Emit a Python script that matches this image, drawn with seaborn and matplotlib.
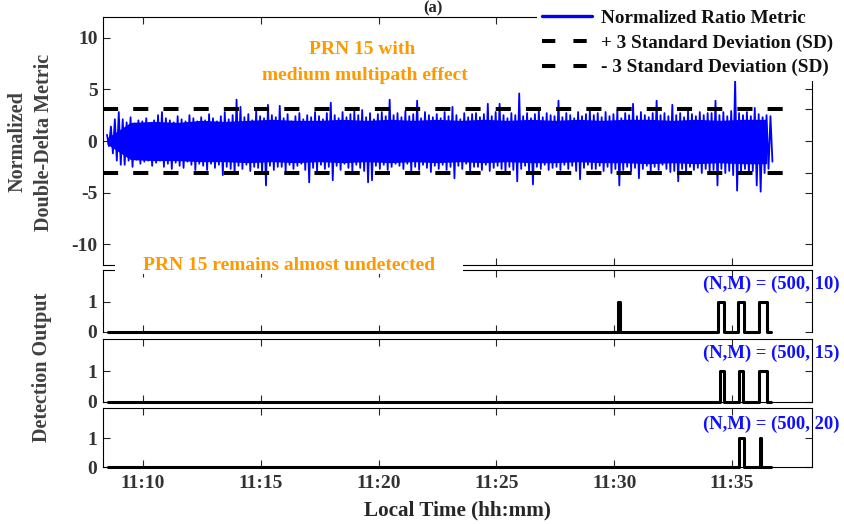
import numpy as np
import pandas as pd
import matplotlib
matplotlib.use("Agg")
import matplotlib.pyplot as plt
import seaborn as sns
from matplotlib.patches import Rectangle
from matplotlib.lines import Line2D

# ---------------- data (minutes after 11:00) ----------------
tick_pos = [10, 15, 20, 25, 30, 35]
tick_labels = ["11:10", "11:15", "11:20", "11:25", "11:30", "11:35"]

metric_t0 = 8.47          # first sample of the metric (min after 11:00)
metric_step = 1 / 6       # 10 s between read envelope samples
metric_hi = [
    0.6, 1.4, 2.1, 2.8,
    2.1, 1.8, 2.3, 1.7, 2.0, 1.9, 2.2, 1.6, 2.0, 2.5,
    2.8, 2.2, 2.0, 1.8, 2.4, 2.1, 1.9, 2.5, 2.2, 1.9,
    2.3, 2.0, 2.6, 2.2, 1.9, 2.4, 2.8, 2.1, 2.5, 4.0,
    3.3, 2.3, 2.6, 2.0, 2.9, 2.4, 2.2, 3.5, 2.5, 2.3,
    3.4, 2.2, 2.6, 1.9, 2.4, 2.7, 2.1, 2.5, 2.3, 2.8,
    2.4, 2.1, 2.7, 3.7, 2.5, 2.2, 2.8, 2.3, 2.6, 2.9,
    2.5, 3.0, 2.3, 2.7, 2.1, 2.6, 2.8, 2.4, 4.0, 2.5,
    2.7, 2.3, 2.9, 2.4, 2.6, 3.9, 2.2, 2.8, 2.5, 2.3,
    2.6, 2.2, 2.8, 2.4, 3.3, 2.5, 2.1, 2.7, 2.3, 2.6,
    2.7, 2.3, 2.6, 3.6, 2.4, 2.8, 3.6, 2.5, 2.2, 2.7,
    2.5, 4.6, 2.4, 2.7, 2.2, 2.6, 2.9, 2.3, 2.7, 2.5,
    2.4, 3.9, 2.3, 2.7, 2.5, 2.2, 2.8, 2.4, 2.6, 2.9,
    2.5, 2.7, 2.3, 2.8, 2.4, 2.6, 3.0, 2.2, 2.7, 2.5,
    3.6, 2.4, 2.8, 2.5, 2.3, 2.7, 3.9, 2.5, 2.7, 2.4,
    3.5, 2.5, 2.7, 2.3, 2.9, 2.6, 2.4, 2.8, 2.5, 2.7,
    2.7, 3.9, 2.5, 2.8, 2.4, 2.9, 6.0, 2.7, 2.5, 2.8, 2.4, 3.2, 2.6, 2.3, 2.5, 2.4,
]
metric_lo = [
    -0.5, -1.2, -1.9, -2.3,
    -2.3, -1.9, -2.5, -1.8, -2.2, -2.0, -1.9, -2.4, -2.1, -1.9,
    -2.5, -2.2, -2.7, -2.1, -2.4, -2.6, -2.0, -2.3, -2.8, -2.2,
    -2.4, -2.8, -2.2, -2.6, -2.3, -3.3, -2.5, -2.7, -3.1, -2.4,
    -2.7, -2.3, -2.9, -2.5, -2.6, -3.0, -4.3, -2.4, -2.8, -2.5,
    -2.5, -2.9, -2.3, -2.7, -2.4, -2.2, -2.8, -4.0, -2.6, -2.9,
    -2.3, -2.7, -2.5, -3.8, -2.4, -2.8, -2.2, -2.6, -2.9, -2.3,
    -2.6, -2.9, -4.0, -3.8, -2.4, -2.7, -2.3, -2.8, -2.5, -2.2,
    -2.4, -2.7, -2.2, -2.9, -2.5, -2.8, -2.3, -2.6, -3.0, -2.4,
    -2.7, -2.3, -2.8, -2.5, -3.6, -2.4, -2.7, -2.2, -2.9, -2.5,
    -2.5, -2.8, -2.3, -2.9, -2.6, -2.4, -2.7, -3.0, -2.5, -2.8,
    -3.9, -2.7, -2.4, -2.9, -4.2, -2.5, -2.7, -2.3, -2.8, -2.6,
    -2.5, -2.8, -2.3, -2.7, -2.4, -2.9, -3.7, -2.6, -2.3, -2.7,
    -2.7, -2.4, -2.9, -2.5, -3.1, -2.7, -4.3, -2.8, -2.5, -2.9,
    -2.6, -3.6, -2.7, -2.4, -2.9, -2.5, -2.8, -2.3, -2.7, -3.0,
    -2.9, -3.9, -2.7, -3.0, -2.5, -2.8, -2.6, -3.1, -2.7, -2.9,
    -2.8, -4.3, -2.7, -3.1, -2.9, -3.3, -4.8, -3.0, -2.7, -3.2, -2.9, -4.3, -4.9, -3.1, -2.7, -2.0,
]

# solid core of the noise band, read once per minute
core_t0 = 8.47
core_step = 1.0
core_hi = [0.3, 1.8, 1.9, 1.8, 2.0, 1.9, 2.0, 2.1, 2.0, 2.0, 2.1, 2.0, 2.1, 2.0,
           2.1, 2.0, 2.1, 2.0, 2.1, 2.0, 2.1, 2.0, 2.1, 2.1, 2.0, 2.1, 2.0, 2.1, 2.1]
core_lo = [-0.3, -1.8, -1.9, -1.9, -2.0, -2.0, -2.1, -2.0, -2.1, -2.0, -2.1, -2.0,
           -2.1, -2.0, -2.1, -2.0, -2.1, -2.0, -2.1, -2.1, -2.0, -2.1, -2.1, -2.2,
           -2.1, -2.2, -2.1, -2.2, -2.2]

sd_plus = 3.05
sd_minus = -3.05
sd_end = 37.16

det_start = 8.51
det_end = 36.66
pulses_10 = [(30.17, 30.24), (34.41, 34.66), (35.25, 35.51), (36.15, 36.49)]
pulses_15 = [(34.49, 34.67), (35.30, 35.48), (36.15, 36.50)]
pulses_20 = [(35.32, 35.53), (36.19, 36.23)]
panel_labels = ["(N,M) = (500, 10)", "(N,M) = (500, 15)", "(N,M) = (500, 20)"]

# ---------------- style ----------------
sns.set_style("ticks")
plt.rcParams["font.family"] = ["Liberation Serif", "DejaVu Serif"]
plt.rcParams["font.weight"] = "bold"
plt.rcParams["axes.unicode_minus"] = False

W, H = 845, 524
fig = plt.figure(figsize=(W / 100, H / 100), dpi=100)


def fx(px):
    return px / W


def fy(py):
    return 1 - py / H


def add_axes(top, bottom):
    return fig.add_axes([fx(103), fy(bottom), fx(812) - fx(103), (bottom - top) / H])


XL = (8.30, 38.40)
TICK_COLOR = "#333333"
FS = 14
BLUE = "#0000FF"

ax0 = add_axes(17, 265)
ax1 = add_axes(270, 332)
ax2 = add_axes(339, 402)
ax3 = add_axes(408, 467)

# ---------------- top panel ----------------
tc = core_t0 + np.arange(len(core_hi)) * core_step
ax0.fill_between(tc, core_lo, core_hi, color=BLUE, lw=0)
t = metric_t0 + np.arange(len(metric_hi)) * metric_step
mx = np.column_stack([t, t + metric_step / 2]).ravel()
my = np.column_stack([metric_hi, metric_lo]).ravel()
df_metric = pd.DataFrame({"time": mx, "value": my})
sns.lineplot(data=df_metric, x="time", y="value", ax=ax0, color=BLUE,
             lw=1.3, estimator=None, sort=False)

for lvl in (sd_plus, sd_minus):
    df_sd = pd.DataFrame({"time": [XL[0], sd_end], "value": [lvl, lvl]})
    sns.lineplot(data=df_sd, x="time", y="value", ax=ax0, color="black",
                 lw=2.9, estimator=None)
    ax0.lines[-1].set_dashes((3.75, 3.75))

ax0.set_ylim(-12, 12)
ax0.set_yticks([-10, -5, 0, 5, 10])
ax0.set_yticks([sd_minus, sd_plus], minor=True)
ax0.tick_params(axis="y", which="minor", left=False, right=True,
                direction="in", length=5, width=0.8)

# ---------------- detection panels ----------------
for ax, pulses in zip([ax1, ax2, ax3], [pulses_10, pulses_15, pulses_20]):
    xs, ys = [det_start], [0]
    for a, b in pulses:
        xs += [a, a, b, b]
        ys += [0, 1, 1, 0]
    xs.append(det_end)
    ys.append(0)
    df_det = pd.DataFrame({"time": xs, "out": ys})
    sns.lineplot(data=df_det, x="time", y="out", ax=ax, color="black",
                 lw=2.2, estimator=None, sort=False)
    ax.lines[-1].set_clip_on(False)
    ax.set_ylim(0, 2.05)
    ax.set_yticks([0, 1])

ax1.spines["bottom"].set_visible(False)

for ax in (ax0, ax1, ax2, ax3):
    ax.set_xlim(*XL)
    ax.set_xticks(tick_pos)
    ax.set_xticklabels(tick_labels)
    ax.tick_params(axis="both", which="major", direction="in", length=5,
                   width=0.8, top=True, right=True, labelsize=FS,
                   labelcolor=TICK_COLOR, pad=4)
    ax.tick_params(axis="x", pad=6)
    ax.set_xlabel("")
    ax.set_ylabel("")
    for s in ax.spines.values():
        s.set_linewidth(0.8)
        s.set_color("black")
    if ax is not ax3:
        ax.tick_params(axis="x", labelbottom=False)

# ---------------- broken-axis cover + texts ----------------
orange = "#FF9900"
fig.patches.append(Rectangle((fx(115), fy(274)), fx(463) - fx(115), (274 - 257) / H,
                             transform=fig.transFigure, facecolor="white",
                             edgecolor="none", zorder=2))
fig.text(fx(289), fy(265), "PRN 15 remains almost undetected", color=orange,
         fontsize=FS, fontweight="bold", ha="center", va="center", zorder=3)
fig.text(fx(362), fy(50), "PRN 15 with", color=orange, fontsize=FS,
         fontweight="bold", ha="center", va="center")
fig.text(fx(365), fy(76), "medium multipath effect", color=orange, fontsize=FS,
         fontweight="bold", ha="center", va="center")

for lab, ypx in zip(panel_labels, [284, 353, 424]):
    fig.text(fx(840), fy(ypx), lab, color="#1010FF", fontsize=13.4,
             fontweight="bold", ha="right", va="center", zorder=6)

fig.text(fx(31), fy(142), "Normalized\nDouble-Delta Metric", rotation=90,
         ha="center", va="center", multialignment="center", fontsize=14.5,
         fontweight="bold", color="#404040", linespacing=1.4)
fig.text(fx(42), fy(367), "Detection Output", rotation=90, ha="center",
         va="center", fontsize=14.5, fontweight="bold", color="#404040")
fig.text(fx(457), fy(510), "Local Time (hh:mm)", ha="center", va="center",
         fontsize=15.2, fontweight="bold", color="#262626")
fig.text(fx(433), fy(0), "(a)", ha="center", va="top", fontsize=12,
         fontweight="bold", color="#262626")

# ---------------- legend ----------------
handles = [
    Line2D([], [], color=BLUE, lw=2.4),
    Line2D([], [], color="black", lw=2.9, dashes=(3.3, 4.5)),
    Line2D([], [], color="black", lw=2.9, dashes=(3.3, 4.5)),
]
labels = ["Normalized Ratio Metric", "+ 3 Standard Deviation (SD)",
          "- 3 Standard Deviation (SD)"]
leg = fig.legend(handles, labels, loc="upper left",
                 bbox_to_anchor=(fx(537), fy(5)), frameon=True,
                 facecolor="white", edgecolor="none", framealpha=1,
                 fancybox=False, fontsize=13.8, handlelength=2.6,
                 handletextpad=0.5, labelspacing=0.37, borderpad=0.25,
                 borderaxespad=0)
for txt in leg.get_texts():
    txt.set_color("#111111")
    txt.set_fontweight("bold")

fig.savefig("out.png", dpi=100)
